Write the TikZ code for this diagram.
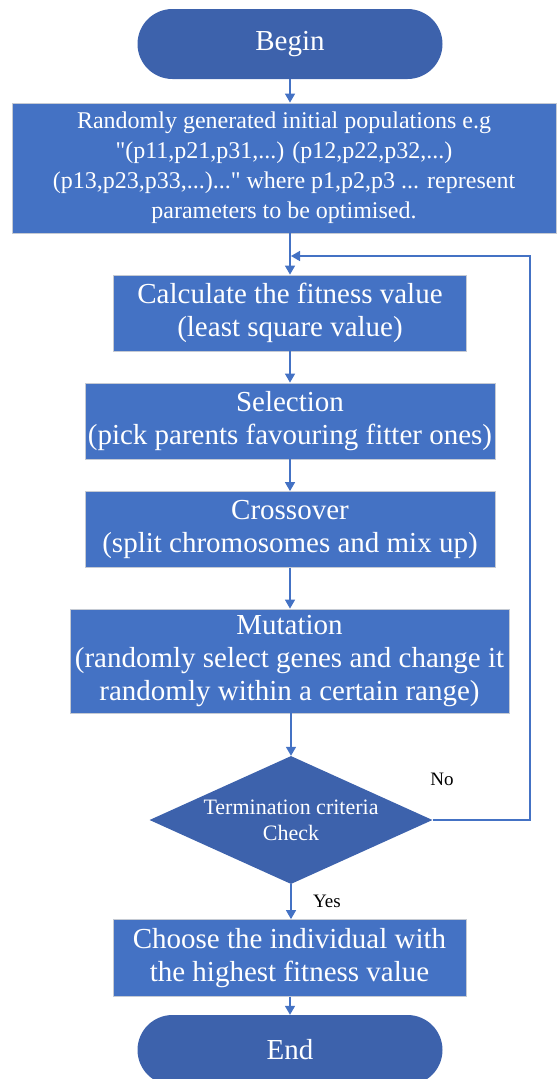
\documentclass[tikz,border=0pt]{standalone}
\usepackage{fontspec}
\setmainfont{Liberation Serif}
\newfontfamily\boxfont{Liberation Serif}
\usetikzlibrary{shapes.geometric, arrows.meta}

\definecolor{boxblue}{HTML}{4472C4}
\definecolor{darkblue}{HTML}{3D62AC}
\definecolor{edgegrey}{HTML}{C5CAD3}

\tikzset{
    stepbox/.style = {rectangle, fill = boxblue, draw = edgegrey, line width = 0.8pt, text = white, align = center, inner sep = 0pt, font = \boxfont\fontsize{29}{33}\selectfont},
    terminal/.style = {rectangle, rounded corners = 35pt, fill = darkblue, text = white, minimum width = 305pt, minimum height = 70pt, inner sep = 0pt, font = \boxfont\fontsize{29}{33}\selectfont},
    decision/.style = {diamond, fill = darkblue, text = white, align = center, aspect = 2.2, minimum width = 283pt, minimum height = 128pt, inner sep = 0pt, font = \boxfont\fontsize{22}{26}\selectfont},
    flow/.style = {boxblue, line width = 1.5pt, -{Triangle[width = 10pt, length = 9pt]}},
    answer/.style = {text = black, font = \boxfont\fontsize{19}{22}\selectfont}
}

\begin{document}
\begin{tikzpicture}[x = 1pt, y = -1pt]
            \useasboundingbox (0, 0) rectangle (557, 1079);

            \coordinate (pos_begin) at (290, 44);
            \coordinate (pos_init) at (284, 168);
            \coordinate (pos_fit) at (290, 313);
            \coordinate (pos_sel) at (290, 421);
            \coordinate (pos_cross) at (290, 529.5);
            \coordinate (pos_mut) at (289.5, 661);
            \coordinate (pos_check) at (291, 820);
            \coordinate (pos_best) at (289.5, 958);
            \coordinate (pos_end) at (290, 1050);
            \coordinate (loop_top) at (530, 256);
            \coordinate (merge) at (291, 256);

            \node[terminal] (begin) at (pos_begin) {Begin};

            \node[stepbox, minimum width = 544pt, minimum height = 130pt, font = \boxfont\fontsize{24}{30}\selectfont] (init) at (pos_init) {Randomly generated initial populations e.g\\ \symbol{34}(p11,p21,p31,...) (p12,p22,p32,...)\\ (p13,p23,p33,...)...\symbol{34} where p1,p2,p3 ... represent\\ parameters to be optimised.};

            \node[stepbox, minimum width = 353pt, minimum height = 76pt] (fit) at (pos_fit) {Calculate the fitness value\\ (least square value)};
            \node[stepbox, minimum width = 410pt, minimum height = 76pt] (sel) at (pos_sel) {Selection\\ (pick parents favouring fitter ones)};
            \node[stepbox, minimum width = 410pt, minimum height = 76pt] (cross) at (pos_cross) {Crossover\\ (split chromosomes and mix up)};
            \node[stepbox, minimum width = 439pt, minimum height = 104pt] (mut) at (pos_mut) {Mutation\\ (randomly select genes and change it\\ randomly within a certain range)};

            \node[decision] (check) at (pos_check) {Termination criteria\\ Check};

            \node[stepbox, minimum width = 353pt, minimum height = 77pt] (best) at (pos_best) {Choose the individual with\\ the highest fitness value};
            \node[terminal] (end) at (pos_end) {End};

            % main line
            \draw[flow] (begin.south) -- (begin.south |- init.north);
            \draw[flow] (fit.north |- init.south) -- (fit.north);
            \draw[flow] (fit.south) -- (sel.north);
            \draw[flow] (sel.south) -- (cross.north);
            \draw[flow] (cross.south) -- (mut.north -| cross.south);
            \draw[flow] (mut.south -| check.north) -- (check.north);
            \draw[flow] (check.south) -- (best.north -| check.south);
            \draw[flow] (best.south -| end.north) -- (end.north);

            % back to the fitness step
            \draw[flow] (check.east) -| (loop_top) -- (merge);

            \node[answer] (no) at (442, 779) {No};
            \node[answer] (yes) at (327, 901) {Yes};
        \end{tikzpicture}
\end{document}
